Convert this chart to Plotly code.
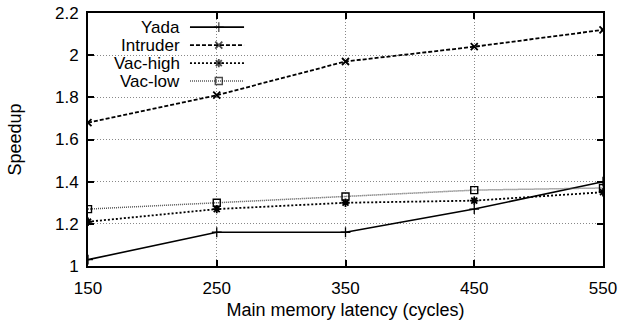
import plotly.graph_objects as go

# ---- data ----
latency = [150, 250, 350, 450, 550]
series_names = ["Yada", "Intruder", "Vac-high", "Vac-low"]
yada = [1.03, 1.16, 1.16, 1.27, 1.40]
intruder = [1.68, 1.81, 1.97, 2.04, 2.12]
vac_high = [1.21, 1.27, 1.30, 1.31, 1.35]
vac_low = [1.27, 1.30, 1.33, 1.36, 1.37]
x_ticks = [150, 250, 350, 450, 550]
y_ticks = [1, 1.2, 1.4, 1.6, 1.8, 2, 2.2]
y_tick_text = ["1", "1.2", "1.4", "1.6", "1.8", "2", "2.2"]
x_range = [150, 550]
y_range = [1, 2.2]

# ---- styles ----
FONT = "Liberation Sans, Arial, Helvetica, sans-serif"
line_colors = ["black", "black", "black", "#555555"]
line_widths = [1.6, 1.8, 1.8, 1.5]
line_dashes = ["solid", "4px,2px", "2px,2px", "1px,1px"]
marker_symbols = ["cross-thin", "x-thin", "asterisk", "square-open"]
marker_widths = [1.3, 1.8, 1.8, 1.4]

# legend layout (fractions of the plot area)
leg_text_x = 0.183
leg_line_x = [0.198, 0.254, 0.303]
leg_row_y = [0.944, 0.873, 0.802, 0.731]


def fx(f):
    return x_range[0] + f * (x_range[1] - x_range[0])


def fy(f):
    return y_range[0] + f * (y_range[1] - y_range[0])


values = [yada, intruder, vac_high, vac_low]

fig = go.Figure()
for i, name in enumerate(series_names):
    fig.add_trace(go.Scatter(
        x=latency, y=values[i], name=name, mode="lines+markers", showlegend=False,
        line=dict(color=line_colors[i], width=line_widths[i], dash=line_dashes[i]),
        marker=dict(symbol=marker_symbols[i], size=7, color="black",
                    line=dict(color="black", width=marker_widths[i]))))

# custom legend key (text right-aligned, sample to the right, as in the original)
for i, name in enumerate(series_names):
    fig.add_trace(go.Scatter(
        x=[fx(v) for v in leg_line_x], y=[fy(leg_row_y[i])] * 3,
        mode="lines+markers", showlegend=False, hoverinfo="skip",
        line=dict(color=line_colors[i], width=line_widths[i], dash=line_dashes[i]),
        marker=dict(symbol=marker_symbols[i], size=[0, 7, 0], color="black",
                    line=dict(color="black", width=marker_widths[i]))))
    fig.add_annotation(x=leg_text_x, y=leg_row_y[i], xref="x domain", yref="y domain",
                       text=name, showarrow=False, xanchor="right", yanchor="middle",
                       font=dict(family=FONT, size=17, color="black"))

tick_font = dict(family=FONT, size=17, color="black")
common = dict(showline=True, linecolor="black", linewidth=2, mirror="ticks",
              ticks="inside", ticklen=6, tickcolor="black", tickwidth=1.5,
              showgrid=True, gridcolor="#888888", griddash="1px,2px", gridwidth=1,
              zeroline=False, tickfont=tick_font, automargin=False)
fig.update_layout(
    width=621, height=323,
    margin=dict(l=88, r=18, t=13, b=57),
    paper_bgcolor="white", plot_bgcolor="white",
    font=dict(family=FONT, size=17, color="black"),
    showlegend=False,
    xaxis=dict(range=x_range, tickvals=x_ticks, ticktext=[str(v) for v in x_ticks],
               ticklabelstandoff=6,
               title=dict(text="Main memory latency (cycles)",
                          font=dict(family=FONT, size=18, color="black"), standoff=6),
               **common),
    yaxis=dict(range=y_range, tickvals=y_ticks, ticktext=y_tick_text,
               ticklabelstandoff=4,
               title=dict(text="Speedup", font=dict(family=FONT, size=18, color="black"), standoff=29),
               **common),
)
fig.write_html("out.html", config={"displayModeBar": False},
               post_script="document.body.style.margin='0';")
